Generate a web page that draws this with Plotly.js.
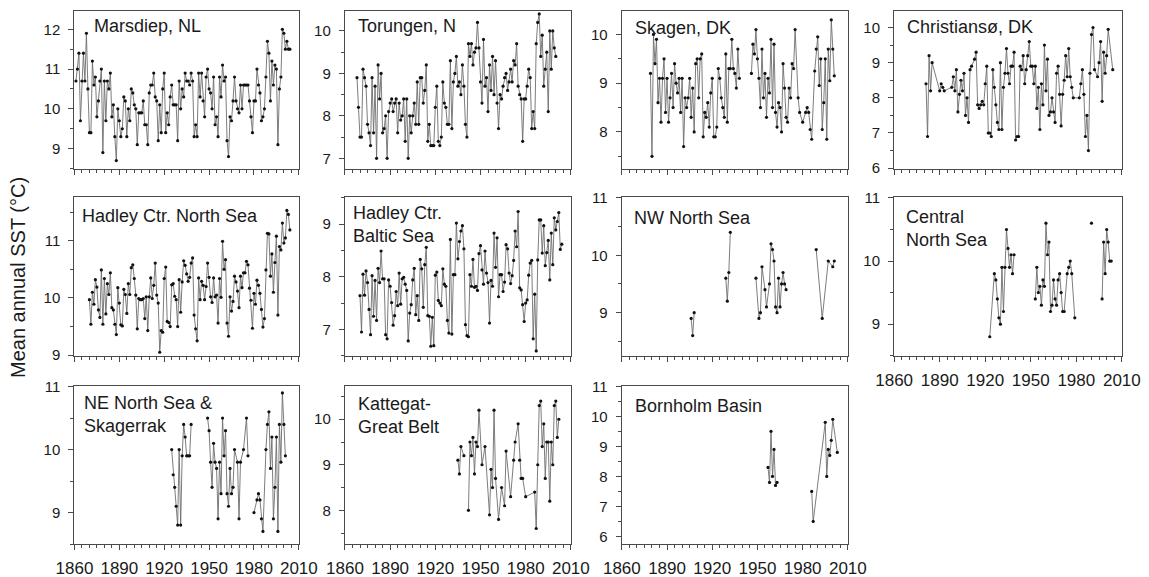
<!DOCTYPE html>
<html><head><meta charset="utf-8">
<script src="https://cdn.plot.ly/plotly-3.0.1.min.js"></script>
<style>html,body{margin:0;padding:0;background:#fff}#chart{width:1149px;height:577px}</style>
</head><body><div id="chart"></div>
<script>
// ---------------- DATA ----------------
const panelTitles = ["Marsdiep, NL", "Torungen, N", "Skagen, DK", "Christiansø, DK",
  "Hadley Ctr. North Sea", "Hadley Ctr.<br>Baltic Sea", "NW North Sea", "Central<br>North Sea",
  "NE North Sea &<br>Skagerrak", "Kattegat-<br>Great Belt", "Bornholm Basin"];
const yAxisTitle = "Mean annual SST (°C)";
const xTickYears = [1860, 1890, 1920, 1950, 1980, 2010];

const marsdiepStart = 1861;
const marsdiepSST = [10.7,11.0,11.4,9.7,10.7,11.4,10.7,11.9,10.5,9.4, 9.4,11.2,10.6,10.8,9.8,10.2,10.7,11.0,8.9,10.7,
  9.7,10.7,10.5,10.9,9.8,10.1,9.3,8.7,10.0,9.7, 9.3,9.5,10.3,10.2,9.3,10.0,9.7,10.5,10.4,10.1,
  10.0,9.1,9.9,9.9,9.9,10.2,9.6,9.6,9.1,10.4, 10.6,10.6,10.9,10.3,10.2,9.2,10.1,9.4,10.5,10.9,
  9.4,9.9,9.6,10.3,10.6,10.1,10.1,10.1,9.2,10.7, 10.0,10.5,10.3,10.9,10.7,10.7,10.6,10.9,10.7,9.3,
  9.6,9.3,10.9,10.3,10.9,10.2,9.8,10.8,11.0,10.5, 10.4,10.0,10.8,9.6,9.8,9.3,10.8,10.3,11.1,10.7,
  10.8,9.2,8.8,9.8,9.7,10.2,10.8,10.2,10.0,9.9, 10.6,10.0,10.6,10.6,10.6,10.6,10.2,9.8,9.4,10.2,
  10.2,11.0,10.6,10.4,9.7,9.8,10.0,10.8,11.7,11.4, 10.2,11.2,10.6,11.1,11.0,9.1,10.5,10.8,12.0,11.9,
  11.5,11.7,11.5,11.5];

const torungenStart = 1868;
const torungenSST = [8.9,8.2,7.5,7.5,9.1,8.9,8.7,7.8,7.6,7.3, 8.9,7.6,8.7,7.0,9.2,8.4,9.0,7.6,7.7,8.0,
  7.0,8.1,8.3,8.4,8.1,8.3,8.4,7.6,8.3,7.9, 8.0,8.4,7.4,8.4,7.0,8.0,7.6,8.0,8.3,7.8,
  8.8,7.8,8.9,8.9,8.3,8.6,9.2,7.4,7.8,7.3, 7.3,7.3,8.2,8.7,7.4,7.3,7.5,8.8,8.3,8.2,
  7.8,7.8,9.3,7.7,8.8,9.0,9.4,8.7,8.8,8.5, 9.2,8.7,7.8,7.5,9.7,9.4,9.7,9.2,9.5,9.6,
  10.2,9.6,8.8,8.3,9.8,8.7,8.9,8.1,9.2,8.6, 9.4,8.5,9.3,8.3,7.7,8.5,8.4,8.7,8.9,9.0,
  8.6,8.8,9.1,8.8,9.3,9.2,9.7,8.7,8.5,8.4, 7.4,8.4,8.4,8.7,9.1,8.9,7.7,8.1,7.7,9.7,
  10.2,10.4,9.4,9.9,8.7,9.1,9.5,8.1,10.0,9.1, 10.0,9.6,9.4];

const skagenStart = 1879;
const skagenSST = [9.2,7.5,10.0,9.4,9.9,8.6,9.1,8.2,9.1,9.5, 8.4,9.1,8.2,8.7,9.2,8.5,9.4,9.0,8.8,9.1,
  8.4,9.1,7.7,8.7,8.5,8.7,9.1,8.3,8.9,8.0, 9.4,9.5,8.7,9.5,9.6,7.9,8.4,8.3,8.6,8.1,
  8.8,9.1,7.9,7.9,8.1,9.3,9.1,8.7,8.5,8.3, 9.6,8.2,9.3,9.3,9.9,9.3,9.2,8.9,9.7,9.1];
const skagenPostwarYears = [1946,1947,1948,1949,1950,1951,1952,1953,1954,1955,1956,1957,1958,1959,1960,
  1961,1962,1963,1964,1965,1966,1967,1968,1969,1970,1971,1972,1973,1974,1975,
  1977,1978,1980,1982,1983,1984,1985,1986,1988,1989,1990,1991,1992,1993,1994,1995,1996,1997,1998,1999,2000,2001];
const skagenPostwarSST = [9.2,9.8,9.6,10.1,9.5,9.1,8.5,9.7,8.7,9.2, 8.3,9.1,8.8,9.9,8.5,9.8,8.4,8.1,8.6,8.5,
  8.0,9.4,8.9,8.3,8.2,8.9,8.7,9.4,9.3,10.1,
  8.7,8.4,8.2,8.4,8.5,8.4,8.05,7.85,9.25,9.7,9.95,8.95,9.5,8.05,8.6,9.5,7.85,9.7,9.05,10.3,9.7,9.15];

const christiansoYears = [1881,1882,1883,1884,1885,1890,1891,1892,1893,1898,1899,1900,1901,1902,1903,1904,1905,1906,1907,1908,1909,1910,1911];
const christiansoSST = [8.4,6.9,9.2,8.2,9.0,8.2,8.4,8.3,8.2,8.3,8.6,8.2,8.8,7.6,8.1,8.5,8.2,8.7,7.5,8.0,7.3,8.8,8.9];
const christiansoMidStart = 1913;
const christiansoMidSST = [9.1,9.3,7.8,7.7,7.8,7.9,7.8,8.4,8.9,7.0, 7.0,6.9,8.8,8.3,7.8,7.3,7.1,9.0,7.1,8.3,
  8.7,9.4,8.7,8.4,8.9,8.9,9.3,6.8,6.9,6.9, 8.9,8.8,9.2,8.4,8.8,9.2,9.6,8.9,8.9,8.4,
  8.9,7.7,8.3,7.1,8.4,7.8,9.5,8.2,9.1,7.5, 7.6,8.0,7.6,7.3,8.7,8.9,8.1,7.2,8.1,8.5,
  9.2,8.6,9.4,8.6,8.3,8.0];
const christiansoLateYears = [1982,1983,1984,1985,1986,1987,1988,1989,1990,1991,1992,1994,1995,1996,1997,1998,1999,2000,2001,2004];
const christiansoLateSST = [8.0,8.4,8.8,8.1,6.9,7.5,6.5,8.7,9.8,10.0,8.8,8.6,9.0,9.6,7.9,9.3,8.7,9.2,9.95,8.8];

const hadleyNorthSeaStart = 1870;
const hadleyNorthSeaSST = [9.97,9.54,10.10,9.89,10.32,10.19,9.79,9.66,10.49,9.54,
  10.34,9.72,10.25,10.06,10.44,9.83,9.79,9.54,9.36,10.18, 9.91,9.53,9.51,10.15,10.06,9.73,10.25,10.06,10.53,10.58,
  10.34,10.05,9.46,9.99,9.97,9.97,9.99,9.64,10.02,9.43, 10.02,10.35,9.99,10.22,10.61,10.05,9.91,9.05,9.43,9.40,
  10.34,10.54,9.59,9.57,9.50,10.23,10.25,10.03,9.97,9.50, 10.32,9.75,10.28,10.65,10.57,10.42,10.29,10.36,10.61,10.70,
  9.70,9.46,9.25,10.35,9.97,10.29,10.22,9.97,10.20,10.61, 10.36,10.02,9.92,10.35,10.02,10.05,9.56,10.34,10.01,10.99,
  10.50,10.67,9.56,9.33,10.02,9.77,9.94,10.38,10.28,10.12, 9.83,10.38,10.18,10.44,10.44,10.64,10.58,10.17,9.96,9.47,
  10.08,9.89,10.31,10.22,10.08,9.80,9.49,9.64,10.49,11.13, 11.12,10.38,10.77,10.10,10.62,11.08,9.70,10.90,10.84,11.31,
  10.96,11.05,11.53,11.46,11.19];

const hadleyBalticStart = 1870;
const hadleyBalticSST = [7.64,6.95,8.05,7.65,8.11,7.89,7.38,6.90,8.02,7.25, 7.93,7.17,8.16,7.89,8.49,7.96,7.96,6.90,6.82,7.94,
  7.82,7.51,7.08,7.26,7.72,7.45,8.07,7.48,7.96,7.99, 7.86,7.74,6.78,7.31,7.47,7.94,8.16,7.28,7.64,7.17,
  8.33,8.15,7.42,8.23,8.56,7.26,7.25,6.68,7.23,6.69, 8.03,8.09,7.55,7.50,7.45,8.15,7.86,7.82,7.17,6.93,
  8.71,6.91,8.04,8.04,9.02,8.34,8.67,8.87,8.97,8.53, 7.09,6.88,6.86,8.04,7.82,8.33,7.80,7.82,7.74,8.44,
  8.59,8.13,7.86,8.49,8.07,7.89,7.12,7.93,7.82,8.83, 8.18,8.74,7.62,8.04,8.04,7.72,7.90,8.61,8.53,8.07,
  7.87,8.02,8.31,8.87,8.57,9.24,7.79,7.75,7.47,7.15, 7.50,7.56,8.03,8.26,8.31,6.82,7.67,6.59,8.32,9.08,
  9.08,8.45,8.97,8.21,8.46,8.69,7.94,8.83,8.23,9.12, 8.89,9.05,9.22,8.52,8.62];

const nwNorthSeaRuns = [
  {years: [1906,1907,1908], sst: [8.9,8.6,9.0]},
  {years: [1929,1930,1931,1932], sst: [9.6,9.2,9.7,10.4]},
  {years: [1949,1951,1952,1953,1955,1956,1958,1959,1960,1961,1962,1963,1964,1965,1966,1967,1968,1969],
   sst: [9.6,8.9,9.0,9.8,9.4,9.1,9.5,10.2,10.1,9.9,9.1,9.0,9.6,9.1,9.5,9.7,9.5,9.4]},
  {years: [1989,1993,1997,2000,2001], sst: [10.1,8.9,9.9,9.8,9.9]}
];
const centralNorthSeaRuns = [
  {years: [1923,1926,1927,1928,1929,1930,1931,1932,1933,1934,1935,1936,1937,1938,1939],
   sst: [8.8,9.8,9.7,9.4,9.1,9.0,9.9,9.2,9.9,10.5,10.2,9.9,10.1,9.8,10.1]},
  {years: [1953,1954,1955,1956,1957,1958,1959,1960,1961,1962,1963,1964,1965,1966,1967,1968,1969,1970,1971,1972,1974,1975,1976,1977,1979],
   sst: [9.4,9.9,9.5,9.6,9.3,9.7,9.6,10.6,10.1,10.3,9.2,9.3,9.7,9.4,9.3,9.7,9.8,9.5,9.2,9.2,9.8,9.9,10.0,9.8,9.1]},
  {years: [1990], sst: [10.6]},
  {years: [1997,1998,1999,2000,2001,2002,2003], sst: [9.4,10.3,9.8,10.5,10.3,10.0,10.0]}
];
const neNorthSeaRuns = [
  {years: [1925,1926,1927,1928,1929,1930,1931,1932,1933,1934,1935,1936,1937,1938],
   sst: [10.0,9.6,9.4,9.1,8.8,10.0,8.8,9.9,10.4,10.2,9.9,9.9,9.9,10.4]},
  {years: [1949,1950,1951,1952,1953,1954,1955,1956,1957,1958,1959,1960,1961,1962,1963,1964,1965,1966,1967,1969,1970,1971,1973,1975,1976],
   sst: [10.5,10.3,9.8,9.4,10.1,9.8,9.7,8.9,9.8,9.3,10.5,9.9,10.3,9.3,9.1,9.7,9.3,9.4,10.0,9.8,8.9,9.8,10.0,10.5,9.9]},
  {years: [1980,1982,1983,1984,1985,1986,1988,1989,1990,1991,1992,1993,1994,1995,1996,1997,1998,1999,2000,2001],
   sst: [9.0,9.2,9.3,9.2,8.9,8.7,10.0,10.4,10.6,9.7,10.2,8.9,9.4,10.2,8.7,10.4,9.8,10.9,10.4,9.9]}
];
const kattegatRuns = [
  {years: [1935,1936,1937,1939], sst: [9.1,8.8,9.4,9.2]},
  {years: [1942,1943,1944,1945,1946,1947,1948,1949,1951,1953,1956,1957,1958,1959,1960,1962,1964,1966,1967,1970,1972,1973,1975,1976,1977,1978,1980,1986,1987,
           1988,1989,1990,1991,1992,1993,1994,1995,1996,1997,1998,1999,2000,2001,2002],
   sst: [8.0,9.5,9.2,9.6,8.8,9.5,9.4,10.2,9.0,9.4,7.9,8.9,8.5,10.2,8.7,7.8,8.5,8.1,9.3,8.3,9.1,9.5,9.9,9.1,8.7,8.7,8.3,8.4,7.6,
         9.0,10.3,10.4,9.4,9.9,8.7,9.5,9.5,8.2,9.5,9.0,10.3,10.4,9.6,10.0]}
];
const bornholmRuns = [
  {years: [1957,1958,1959,1960,1961,1962,1963], sst: [8.3,7.8,9.5,8.0,8.9,7.7,7.8]},
  {years: [1986,1987,1995,1996,1997,1998,1999,2000,2003], sst: [7.5,6.5,9.8,8.0,8.9,8.7,9.2,9.9,8.8]}
];

// ---------------- BUILD ----------------
function annualRun(start, sst) { return {years: sst.map((_, k) => start + k), sst: sst}; }
function joinRuns(runs) { // runs drawn as one connected run
  return {years: [].concat(...runs.map(r => r.years)), sst: [].concat(...runs.map(r => r.sst))};
}
function buildSeries(runs) {
  const x = [], y = [];
  runs.forEach((r, i) => {
    if (i > 0) { x.push((x[x.length - 1] + r.years[0]) / 2); y.push(null); }
    r.years.forEach((yr, k) => { x.push(yr); y.push(r.sst[k]); });
  });
  return {x, y};
}

const panelRuns = [
  [annualRun(marsdiepStart, marsdiepSST)],
  [annualRun(torungenStart, torungenSST)],
  [annualRun(skagenStart, skagenSST), {years: skagenPostwarYears, sst: skagenPostwarSST}],
  [joinRuns([{years: christiansoYears, sst: christiansoSST}, annualRun(christiansoMidStart, christiansoMidSST),
             {years: christiansoLateYears, sst: christiansoLateSST}])],
  [annualRun(hadleyNorthSeaStart, hadleyNorthSeaSST)],
  [annualRun(hadleyBalticStart, hadleyBalticSST)],
  nwNorthSeaRuns, centralNorthSeaRuns, neNorthSeaRuns, kattegatRuns, bornholmRuns
];

// ---------------- LAYOUT (pixels) ----------------
const W = 1149, H = 577;
const colPx = [[74.3, 299], [344.8, 571], [621.7, 848], [894, 1122]];
const rowPx = [[11, 168.5], [197.3, 355.7], [386, 544]];
const panelPos = [[0,0],[0,1],[0,2],[0,3],[1,0],[1,1],[1,2],[1,3],[2,0],[2,1],[2,2]];
const yRanges = [[8.5,12.46],[6.76,10.47],[7.25,10.48],[5.99,10.47],[8.99,11.76],[6.5,9.51],
                 [8.25,11.01],[8.5,11.01],[8.5,11.01],[7.26,10.73],[5.75,11.01]];
const labelOffsets = [[19,4],[12,4],[12,6],[12,5],[7,8],[7,5],[11,10],[11,9],[9,6],[12,7],[12,9]];
const showXLabels = [false,false,false,false,false,false,false,true,true,true,true];

const FONT = 'Liberation Sans, Arial, sans-serif';
const AX = '#4a4a4a';
const traces = [];
const layout = {
  width: W, height: H, margin: {l: 0, r: 0, t: 0, b: 0},
  paper_bgcolor: '#fff', plot_bgcolor: '#fff', showlegend: false,
  font: {family: FONT, color: '#1a1a1a'},
  annotations: []
};

panelRuns.forEach((runs, i) => {
  const s = buildSeries(runs);
  const n = i + 1;
  traces.push({x: s.x, y: s.y, type: 'scatter', mode: 'lines+markers',
    xaxis: 'x' + n, yaxis: 'y' + n, connectgaps: false, cliponaxis: false,
    line: {color: '#6e6e6e', width: 0.9},
    marker: {color: '#111', size: 3.2}, hoverinfo: 'x+y'});
  const [r, c] = panelPos[i];
  const [x0, x1] = colPx[c], [yt, yb] = rowPx[r];
  const xa = {domain: [x0 / W, x1 / W], range: [1859.9, 2010.1], anchor: 'y' + n,
    showline: true, mirror: true, linecolor: AX, linewidth: 1, showgrid: false, zeroline: false,
    tickmode: 'array', tickvals: xTickYears, ticktext: xTickYears.map(String),
    showticklabels: showXLabels[i], ticks: 'outside', ticklen: 5, tickcolor: AX, tickwidth: 1,
    tickfont: {size: 17, family: FONT, color: '#1a1a1a'}, ticklabelstandoff: 4,
    minor: {dtick: 5, tick0: 1860, ticks: 'outside', ticklen: 3, tickcolor: AX, tickwidth: 1, showgrid: false}};
  const ya = {domain: [1 - yb / H, 1 - yt / H], range: yRanges[i], anchor: 'x' + n,
    showline: true, mirror: true, linecolor: AX, linewidth: 1, showgrid: false, zeroline: false,
    dtick: 1, tick0: 0, ticks: 'outside', ticklen: 5, tickcolor: AX, tickwidth: 1,
    tickfont: {size: 15, family: FONT, color: '#1a1a1a'}, ticklabelstandoff: 5,
    minor: {dtick: 0.5, tick0: 0, ticks: 'outside', ticklen: 3, tickcolor: AX, tickwidth: 1, showgrid: false}};
  layout['xaxis' + (n === 1 ? '' : n)] = xa;
  layout['yaxis' + (n === 1 ? '' : n)] = ya;
  const [dx, dy] = labelOffsets[i];
  layout.annotations.push({text: panelTitles[i], xref: 'paper', yref: 'paper',
    x: (x0 + dx) / W, y: 1 - (yt + dy) / H, xanchor: 'left', yanchor: 'top', align: 'left',
    showarrow: false, font: {size: 18, family: FONT, color: '#1a1a1a'}, borderpad: 0});
});

layout.annotations.push({text: yAxisTitle, xref: 'paper', yref: 'paper', x: 18 / W, y: 1 - 278 / H,
  xanchor: 'center', yanchor: 'middle', textangle: -90, showarrow: false,
  font: {size: 20, family: FONT, color: '#1a1a1a'}});

Plotly.newPlot('chart', traces, layout, {staticPlot: true, displayModeBar: false});
</script>
</body></html>
